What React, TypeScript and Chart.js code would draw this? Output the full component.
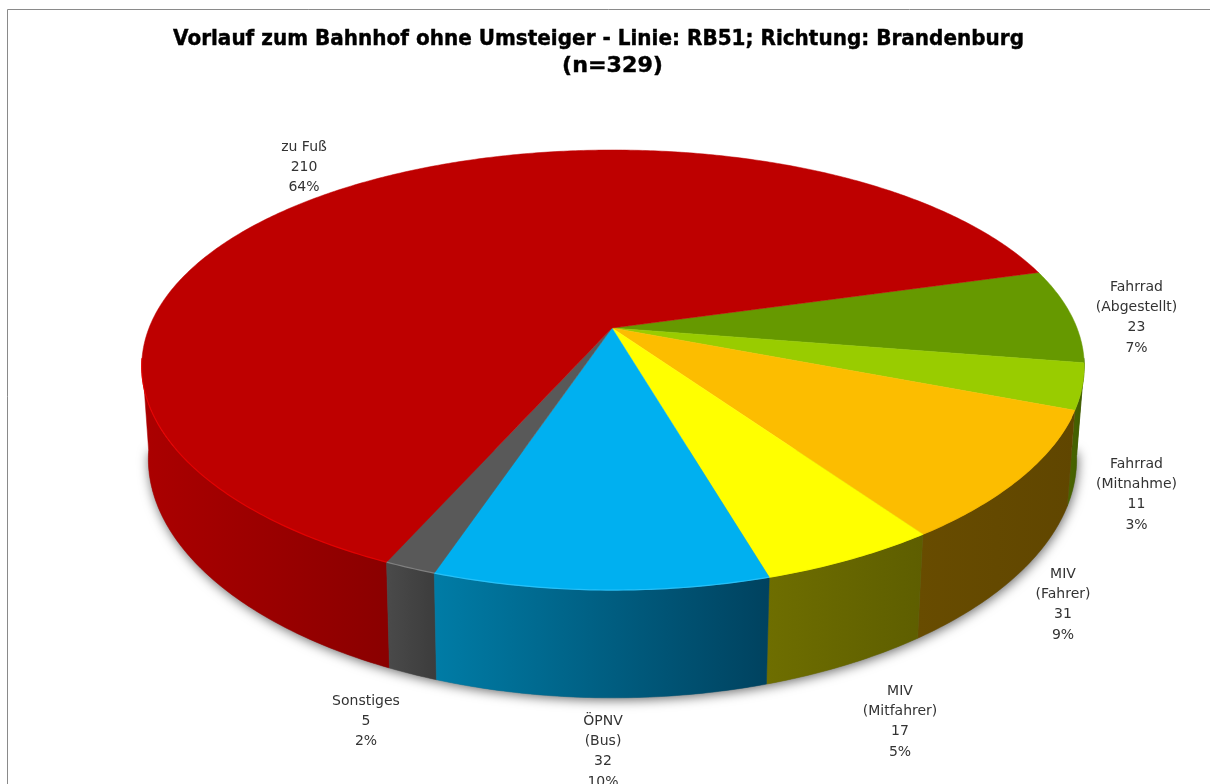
import React, { useEffect, useRef } from "react";
import { Chart, registerables } from "chart.js";

Chart.register(...registerables);

const categories = [
  ["Fahrrad", "(Abgestellt)"],
  ["Fahrrad", "(Mitnahme)"],
  ["MIV", "(Fahrer)"],
  ["MIV", "(Mitfahrer)"],
  ["ÖPNV", "(Bus)"],
  ["Sonstiges"],
  ["zu Fuß"],
];
const counts = [23, 11, 31, 17, 32, 5, 210];
const percentLabels = ["7%", "3%", "9%", "5%", "10%", "2%", "64%"];
const topColors = ["#669900", "#99CC00", "#FCBD00", "#FFFF00", "#00B0F0", "#595959", "#BE0000"];
const wallLeftColors = ["#3F6000", "#4A6400", "#684C00", "#6E6E00", "#007CA6", "#4A4A4A", "#AB0000"];
const wallRightColors = ["#3A5800", "#3F5C00", "#604600", "#5E5E00", "#00425F", "#3C3C3C", "#8A0000"];
const rimColors = ["#669900", "#99CC00", "#FCBD00", "#FFFF00", "#30C8FF", "#8A8A8A", "#EE0000"];
const titleLines = ["Vorlauf zum Bahnhof ohne Umsteiger - Linie: RB51; Richtung: Brandenburg", "(n=329)"];
const labelAnchors = [
  [1136.5, 287], [1136.5, 464], [1063, 574], [900, 691], [603, 721], [366, 701], [304, 147],
];

// projection of the tilted disc on the canvas
const CY = 328, P = 0.191, PX = 0.175;
const TOP = { cx: 613, rx: 464, ky: 212, drop: 0 };
const BOT = { cx: 612.5, rx: 457, ky: 226.4, drop: 90 };
const project = (g: typeof TOP) => (a: number) => {
  const x = Math.cos(a), y = Math.sin(a);
  return [g.cx + (g.rx * x) / (1 - PX * y), CY + g.drop + (g.ky * y) / (1 - P * y)];
};
const top = project(TOP);
const bottom = project(BOT);
const sweep = (a0: number, a1: number, f: (a: number) => number[]) => {
  const n = Math.max(2, Math.ceil(Math.abs(a1 - a0) / 0.01));
  const out: number[][] = [];
  for (let i = 0; i <= n; i++) out.push(f(a0 + ((a1 - a0) * i) / n));
  return out;
};
// part of the side wall that faces the viewer
const VIS_MIN = (8 * Math.PI) / 180, VIS_MAX = (172 * Math.PI) / 180;

const fitText = (ctx: CanvasRenderingContext2D, text: string, left: number, right: number, base: number) => {
  const w = ctx.measureText(text).width;
  ctx.save();
  ctx.translate(left, base);
  ctx.scale((right - left) / w, 1);
  ctx.textAlign = "left";
  ctx.textBaseline = "alphabetic";
  ctx.fillText(text, 0, 0);
  ctx.strokeStyle = "#000";
  ctx.lineWidth = 0.45;
  ctx.strokeText(text, 0, 0);
  ctx.restore();
};

const disc3d = {
  id: "disc3d",
  beforeDatasetsDraw(chart: any) {
    const ctx = chart.ctx as CanvasRenderingContext2D;
    const arcs = chart.getDatasetMeta(0).data.map((el: any, i: number) => {
      const p = el.getProps(["startAngle", "endAngle"], true);
      return { i, a0: p.startAngle, a1: p.endAngle };
    });
    const polygonOf = (a0: number, a1: number) => {
      const pts = [...sweep(a0, a1, top), ...sweep(a1, a0, bottom)];
      ctx.beginPath();
      pts.forEach((p, k) => (k ? ctx.lineTo(p[0], p[1]) : ctx.moveTo(p[0], p[1])));
      ctx.closePath();
    };
    const walls = arcs
      .map((s: any) => ({ ...s, w0: Math.max(s.a0, VIS_MIN), w1: Math.min(s.a1, VIS_MAX) }))
      .filter((s: any) => s.w1 > s.w0)
      .sort(
        (p: any, q: any) =>
          Math.abs(q.w0 / 2 + q.w1 / 2 - Math.PI / 2) - Math.abs(p.w0 / 2 + p.w1 / 2 - Math.PI / 2)
      );
    // soft shadow cast by the lower edge of the wall
    ctx.save();
    ctx.shadowColor = "rgba(0,0,0,0.6)";
    ctx.shadowBlur = 12;
    ctx.shadowOffsetX = 1;
    ctx.shadowOffsetY = 2;
    ctx.fillStyle = "#777";
    ctx.beginPath();
    sweep(VIS_MIN, VIS_MAX, bottom).forEach((p, k) => (k ? ctx.lineTo(p[0], p[1]) : ctx.moveTo(p[0], p[1])));
    ctx.closePath();
    ctx.fill();
    ctx.restore();
    // walls
    walls.forEach((s: any) => {
      const xs = [...sweep(s.w0, s.w1, bottom), ...sweep(s.w0, s.w1, top)].map((p) => p[0]);
      const g = ctx.createLinearGradient(Math.min(...xs), 0, Math.max(...xs), 0);
      g.addColorStop(0, wallLeftColors[s.i]);
      g.addColorStop(1, wallRightColors[s.i]);
      ctx.fillStyle = g;
      polygonOf(s.w0, s.w1);
      ctx.fill();
      ctx.strokeStyle = g;
      ctx.lineWidth = 0.5;
      ctx.stroke();
    });
    // top faces
    arcs.forEach((s: any) => {
      const pts = sweep(s.a0, s.a1, top);
      ctx.beginPath();
      ctx.moveTo(TOP.cx - 1, CY);
      pts.forEach((p) => ctx.lineTo(p[0], p[1]));
      ctx.closePath();
      ctx.fillStyle = topColors[s.i];
      ctx.fill();
      ctx.strokeStyle = topColors[s.i];
      ctx.lineWidth = 0.5;
      ctx.stroke();
    });
    // highlighted front rim
    arcs.forEach((s: any) => {
      const a0 = Math.max(s.a0, 0.4), a1 = Math.min(s.a1, VIS_MAX);
      if (a1 <= a0) return;
      ctx.beginPath();
      sweep(a0, a1, top).forEach((p, k) => (k ? ctx.lineTo(p[0], p[1]) : ctx.moveTo(p[0], p[1])));
      ctx.strokeStyle = rimColors[s.i];
      ctx.globalAlpha = 0.8;
      ctx.lineWidth = 1.2;
      ctx.stroke();
      ctx.globalAlpha = 1;
    });
    return false;
  },
  afterDraw(chart: any) {
    const ctx = chart.ctx as CanvasRenderingContext2D;
    // frame of the chart
    ctx.save();
    ctx.strokeStyle = "#8A8A8A";
    ctx.lineWidth = 1;
    ctx.beginPath();
    ctx.moveTo(7.5, 784);
    ctx.lineTo(7.5, 9.5);
    ctx.lineTo(1210, 9.5);
    ctx.stroke();
    // title
    ctx.fillStyle = "#000";
    ctx.font = "bold 22px 'DejaVu Sans'";
    fitText(ctx, titleLines[0], 173, 1024, 45);
    fitText(ctx, titleLines[1], 562, 663, 72);
    // data labels
    ctx.fillStyle = "#333";
    ctx.textAlign = "center";
    ctx.textBaseline = "middle";
    ctx.font = "14px 'DejaVu Sans'";
    categories.forEach((cat, i) => {
      const lines = [...cat, String(counts[i]), percentLabels[i]];
      lines.forEach((t, k) => ctx.fillText(t, labelAnchors[i][0], labelAnchors[i][1] + k * 20.4));
    });
    ctx.restore();
  },
};

export default function App() {
  const ref = useRef<HTMLCanvasElement>(null);
  useEffect(() => {
    const chart = new Chart(ref.current as HTMLCanvasElement, {
      type: "pie",
      data: {
        labels: categories.map((c) => c.join(" ")),
        datasets: [{ data: counts, backgroundColor: topColors, borderWidth: 0 }],
      },
      options: {
        responsive: false,
        animation: false,
        rotation: 74,
        plugins: { legend: { display: false }, tooltip: { enabled: false } },
      },
      plugins: [disc3d],
    } as any);
    return () => chart.destroy();
  }, []);
  return (
    <canvas
      ref={ref}
      width={1210}
      height={784}
      style={{ position: "fixed", left: 0, top: 0, width: 1210, height: 784, background: "#fff", filter: "blur(0.35px)" }}
    />
  );
}
